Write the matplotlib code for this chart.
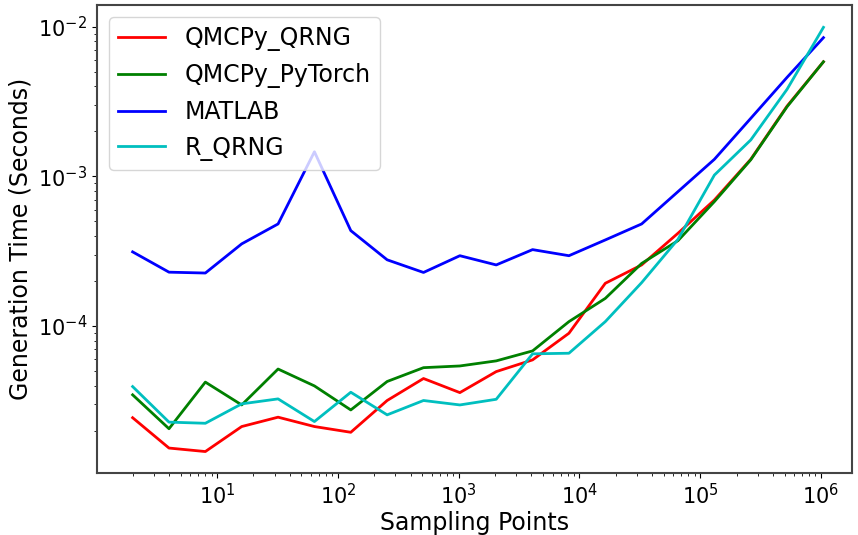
import matplotlib
matplotlib.use("Agg")
import matplotlib.pyplot as plt
import numpy as np

n_points = [2**k for k in range(1, 21)]

qmcpy_qrng = [2.44e-5, 1.53e-5, 1.45e-5, 2.13e-5, 2.46e-5, 2.13e-5, 1.95e-5, 3.18e-5, 4.46e-5, 3.59e-5,
              4.96e-5, 5.94e-5, 8.95e-5, 1.93e-4, 2.56e-4, 4.17e-4, 6.95e-4, 1.30e-3, 2.95e-3, 5.83e-3]
qmcpy_pytorch = [3.47e-5, 2.06e-5, 4.22e-5, 2.97e-5, 5.16e-5, 3.98e-5, 2.75e-5, 4.26e-5, 5.27e-5, 5.41e-5,
                 5.85e-5, 6.82e-5, 1.07e-4, 1.53e-4, 2.62e-4, 3.72e-4, 6.78e-4, 1.29e-3, 2.92e-3, 5.83e-3]
matlab = [3.13e-4, 2.29e-4, 2.26e-4, 3.54e-4, 4.81e-4, 1.46e-3, 4.34e-4, 2.77e-4, 2.28e-4, 2.95e-4,
          2.56e-4, 3.24e-4, 2.95e-4, 3.76e-4, 4.81e-4, 7.91e-4, 1.30e-3, 2.44e-3, 4.59e-3, 8.45e-3]
r_qrng = [3.94e-5, 2.28e-5, 2.24e-5, 3.02e-5, 3.26e-5, 2.30e-5, 3.61e-5, 2.55e-5, 3.18e-5, 2.97e-5,
          3.24e-5, 6.52e-5, 6.58e-5, 1.07e-4, 1.95e-4, 3.80e-4, 1.02e-3, 1.75e-3, 3.82e-3, 9.90e-3]

series = [("QMCPy_QRNG", qmcpy_qrng, "r"),
          ("QMCPy_PyTorch", qmcpy_pytorch, "g"),
          ("MATLAB", matlab, "b"),
          ("R_QRNG", r_qrng, "c")]

fig = plt.figure(figsize=(8.58, 5.35), dpi=100)
ax = fig.add_axes([97/858, 1-473/535, (852-97)/858, (473-5)/535])
for name, vals, col in series:
    ax.plot(n_points, vals, color=col, lw=2, label=name)
ax.set_xscale("log")
ax.set_yscale("log")
ax.set_xlim(10**0.006, 10**6.257)
ax.set_ylim(10**-4.982, 10**-1.855)
ax.set_xlabel("Sampling Points", fontsize=17, labelpad=2)
ax.set_ylabel("Generation Time (Seconds)", fontsize=17)
ax.tick_params(labelsize=15)
for s in ax.spines.values():
    s.set_color("#444444")
    s.set_linewidth(1.5)
ax.legend(loc="upper left", fontsize=17)
fig.savefig("out.png", dpi=100)
